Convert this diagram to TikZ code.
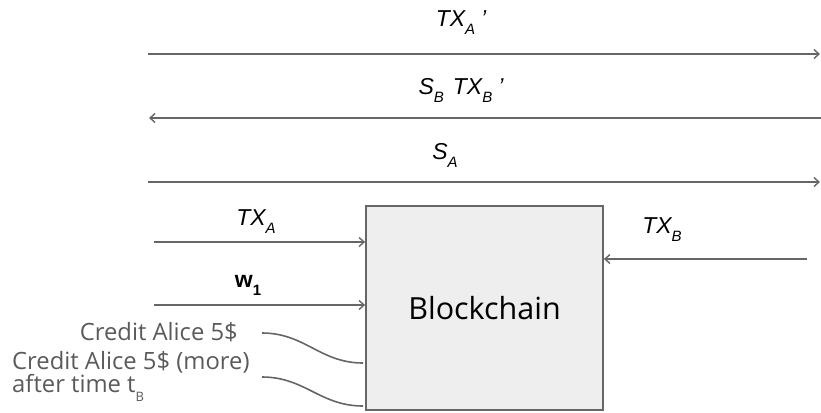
\documentclass[tikz,border=0pt]{standalone}
\usepackage{fontspec}
\setmainfont{Open Sans}
\newfontfamily\arialfont{Liberation Sans}
\usetikzlibrary{arrows.meta}

\definecolor{linegray}{HTML}{666666}
\definecolor{notegray}{HTML}{5A5A5A}
\definecolor{boxfill}{HTML}{EEEEEE}

% italic label with a lowered subscript
\newcommand{\msgsub}[2]{#1\raisebox{-8pt}{\fontsize{15}{15}\selectfont #2}}

\begin{document}
\begin{tikzpicture}[x=1pt,y=-1pt,
  flow/.style={draw=linegray, line width=1.6pt, -{Straight Barb[length=5pt,width=9pt,line width=1.4pt]}},
  msg/.style={font=\arialfont\itshape\fontsize{23}{23}\selectfont, inner sep=0pt, anchor=base},
  note/.style={font=\fontsize{23.8}{24}\selectfont, text=notegray, inner sep=0pt},
  wire/.style={draw=linegray, line width=1.6pt}]
\useasboundingbox (0,0) rectangle (821,412);

% the blockchain
\node[draw=linegray, fill=boxfill, line width=1.8pt, minimum width=237pt,
      minimum height=204pt, inner sep=0pt, font=\fontsize{30.5}{30.5}\selectfont]
      (chain) at (484.5,308) {Blockchain};

% messages between the parties
\coordinate (m1l) at (148,54);  \coordinate (m1r) at (820,54);
\coordinate (m2l) at (149,118); \coordinate (m2r) at (821,118);
\coordinate (m3l) at (148,182); \coordinate (m3r) at (820,182);
\draw[flow] (m1l) -- (m1r);
\draw[flow] (m2r) -- (m2l);
\draw[flow] (m3l) -- (m3r);
\node[msg] (txa2) at (461,27) {\msgsub{TX}{A}\hspace{6pt}’};
\node[msg] (sbtxb) at (461,94) {\msgsub{S}{B}\hspace{9pt}\msgsub{TX}{B}\hspace{6pt}’};
\node[msg] (sa) at (445,159) {\msgsub{S}{A}};

% transactions posted to the blockchain
\coordinate (txain) at (154,242);
\coordinate (w1in) at (154,305);
\coordinate (txbin) at (807,259);
\draw[flow] (txain) -- (txain -| chain.west);
\draw[flow] (w1in) -- (w1in -| chain.west);
\draw[flow] (txbin) -- (txbin -| chain.east);
\node[msg] (txa) at (256,225) {\msgsub{TX}{A}};
\node[msg, font=\arialfont\bfseries\fontsize{23}{23}\selectfont] (w1) at (248,287) {w\raisebox{-8pt}{\fontsize{15}{15}\selectfont 1}};
\node[msg] (txb) at (662,233) {\msgsub{TX}{B}};

% credits held by the blockchain
\node[note, anchor=base east] (credit1) at (238,340) {Credit Alice 5\$};
\node[note, anchor=base west] (credit2) at (12,369) {Credit Alice 5\$ (more)};
\node[note, anchor=base west] (credit2b) at (12,392) {after time t\raisebox{-9pt}{\fontsize{13}{13}\selectfont B}};
\coordinate (c1s) at (262,333); \coordinate (c1e) at (363,363);
\coordinate (c2s) at (262,377); \coordinate (c2e) at (363,406);
\draw[wire] (c1s) .. controls (305,333) and (320,363) .. (c1e);
\draw[wire] (c2s) .. controls (305,377) and (320,406) .. (c2e);
\end{tikzpicture}
\end{document}
